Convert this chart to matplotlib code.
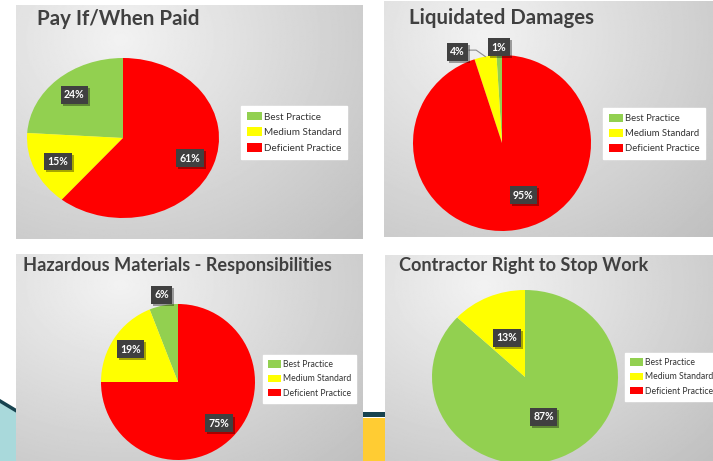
import numpy as np
import matplotlib.pyplot as plt
import matplotlib.patheffects as pe
from matplotlib.patches import Rectangle, Polygon

W, H = 713, 461

categories = ['Best Practice', 'Medium Standard', 'Deficient Practice']
colors = ['#92D050', '#FFFF00', '#FF0000']

pay_if_paid = [24, 15, 61]
liquidated_damages = [1, 4, 95]
hazardous_materials = [6, 19, 75]
stop_work = [87, 13, 0]

titles = ['Pay If/When Paid', 'Liquidated Damages',
          'Hazardous Materials - Responsibilities', 'Contractor Right to Stop Work']
series = [pay_if_paid, liquidated_damages, hazardous_materials, stop_work]

# layout in pixels (x0, y0, x1, y1) from top-left
panels = [(16, 5, 362, 239), (384, 1, 713, 237), (16, 254, 362, 461), (385, 255, 713, 461)]
pies = [(123, 138, 96, 80), (502, 143, 89, 88), (178, 382, 77, 78), (525, 377, 93, 87)]
legend_at = [(241, 106), (603, 108), (263, 355), (625, 353)]
legend_size = [7.1, 6.8, 6.2, 6.2]
title_at = [(37, 19), (409, 18), (23, 266), (399, 266)]
title_size = [14.8, 14.7, 13.1, 13.1]
counterclock = [True, True, True, False]
# label placement per slice: (radius, angle shift)
label_place = [
    [(0.74, 0), (0.74, 0), (0.74, 0)],
    [(1.09, 0), (1.15, 15), (0.64, 13)],
    [(1.14, 0), (0.75, 0), (0.75, 0)],
    [(0.5, 0), (0.49, 0), (0.5, 0)],
]
leaders = {(1, 1)}


def px_axes(fig, x0, y0, x1, y1, **kw):
    return fig.add_axes([x0 / W, 1 - y1 / H, (x1 - x0) / W, (y1 - y0) / H], **kw)


fig = plt.figure(figsize=(W / 100, H / 100), dpi=100)
fig.patch.set_facecolor('white')

# background decoration
deco = fig.add_axes([0, 0, 1, 1], zorder=-5)
deco.set_xlim(0, W)
deco.set_ylim(H, 0)
deco.axis('off')
xs = np.linspace(0, 20, 20)
deco.add_patch(Polygon(np.column_stack([np.r_[xs, 20, 0], np.r_[401 + 0.6 * xs, 461, 461]]),
                       fc='#A9D9DB', ec='none'))
deco.plot(xs, 401 + 0.6 * xs, color='#17434F', lw=2.5)
deco.add_patch(Rectangle((360, 412), 28, 5, fc='#17434F', ec='none'))
deco.add_patch(Rectangle((360, 418), 28, 43, fc='#FFCC33', ec='none'))

for i, vals in enumerate(series):
    # panel with grey gradient
    bg = px_axes(fig, *panels[i])
    yy, xx = np.mgrid[0:1:200j, 0:1:300j]
    d = np.hypot(xx - 0.3, (yy - 0.85) * 0.8)
    d = d / d.max()
    bg.imshow(0.95 - 0.2 * d, cmap='gray', vmin=0, vmax=1, extent=[0, 1, 0, 1],
              origin='lower', aspect='auto')
    bg.axis('off')

    cx, cy, rx, ry = pies[i]
    ax = px_axes(fig, cx - rx, cy - ry, cx + rx, cy + ry)
    wedges, _, autotexts = ax.pie(vals, colors=colors, startangle=90,
                                  counterclock=counterclock[i],
                                  autopct=lambda p: f'{p:.0f}%' if p > 0 else '',
                                  wedgeprops=dict(linewidth=0))
    ax.set_aspect('auto')
    ax.set_xlim(-1, 1)
    ax.set_ylim(-1, 1)
    ax.axis('off')

    for j, (w, t) in enumerate(zip(wedges, autotexts)):
        r, shift = label_place[i][j]
        th = np.deg2rad((w.theta1 + w.theta2) / 2 + shift)
        t.set_position((r * np.cos(th), r * np.sin(th)))
        t.set_color('white')
        t.set_fontsize(7.6)
        t.set_fontweight('bold')
        t.set_family('Lato')
        t.set_bbox(dict(boxstyle='square,pad=0.32', fc='#404040', ec='none'))
        t.get_bbox_patch().set_path_effects([
            pe.SimplePatchShadow(offset=(1.5, -1.5), shadow_rgbFace='black', alpha=0.35),
            pe.Normal()])
        if (i, j) in leaders:
            mid = np.deg2rad((w.theta1 + w.theta2) / 2)
            lx, ly = r * np.cos(th) + 0.13, r * np.sin(th) + 0.02
            ax.plot([lx, lx + 0.08, np.cos(mid)], [ly, ly, np.sin(mid)],
                    color='#8c8c8c', lw=0.8, clip_on=False)

    lx, ly = legend_at[i]
    ax.legend(wedges, categories, loc='upper left',
              bbox_to_anchor=(lx / W, 1 - ly / H), bbox_transform=fig.transFigure,
              fancybox=False, framealpha=1, facecolor='white', edgecolor='white',
              handlelength=1.5, handleheight=0.95, handletextpad=0.2,
              labelspacing=0.6, borderpad=0.6, borderaxespad=0,
              labelcolor='#333333', prop={'family': 'Lato', 'size': legend_size[i]})

    tx, ty = title_at[i]
    fig.text(tx / W, 1 - ty / H, titles[i], ha='left', va='center', fontsize=title_size[i],
             fontweight='bold', color='#404040', family='Lato')

fig.savefig('out.png', dpi=100)
